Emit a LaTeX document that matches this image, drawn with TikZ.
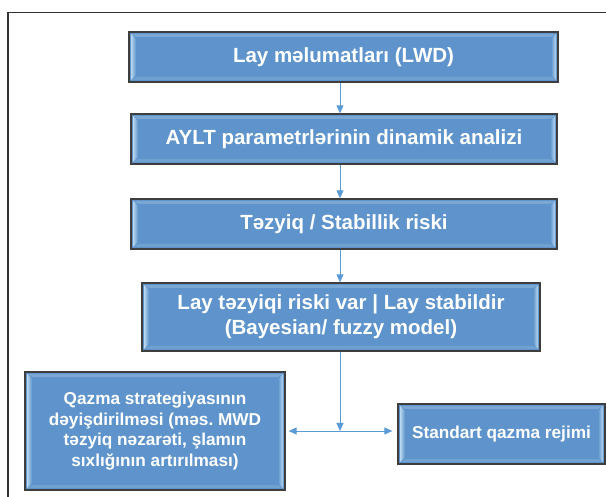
\documentclass[tikz,border=0pt]{standalone}
\usepackage{fontspec}
\setmainfont{Liberation Sans}
\usepackage{tikz}
\usetikzlibrary{arrows.meta, calc}

\definecolor{boxblue}{RGB}{94,148,203}
\definecolor{boxlight}{RGB}{186,216,240}
\definecolor{boxedge}{RGB}{62,62,62}
\definecolor{flowblue}{RGB}{91,155,213}
\definecolor{framegray}{RGB}{50,50,50}

\frenchspacing

\begin{document}
\begin{tikzpicture}[x=1pt, y=-1pt,
  flowbox/.style={draw=boxedge, line width=1.3pt, fill=boxblue, text=white,
    align=center, inner sep=0pt, font=\bfseries\fontsize{20.5}{25}\selectfont,
    path picture={
      \coordinate (pnw) at (path picture bounding box.north west);
      \coordinate (pne) at (path picture bounding box.north east);
      \coordinate (psw) at (path picture bounding box.south west);
      \coordinate (pse) at (path picture bounding box.south east);
      \fill[white, opacity=0.18] ($(pnw)+(2pt,-2pt)$) -- ($(pne)+(-2pt,-2pt)$) -- ($(pne)+(-7pt,-5pt)$) -- ($(pnw)+(7pt,-5pt)$) -- cycle;
      \fill[white, opacity=0.12] ($(psw)+(2pt,2pt)$) -- ($(pse)+(-2pt,2pt)$) -- ($(pse)+(-7pt,5pt)$) -- ($(psw)+(7pt,5pt)$) -- cycle;
      \shade[left color=boxlight, right color=boxblue] ($(pnw)+(2pt,-2pt)$) -- ($(pnw)+(7pt,-7pt)$) -- ($(psw)+(7pt,7pt)$) -- ($(psw)+(2pt,2pt)$) -- cycle;
      \shade[right color=boxlight, left color=boxblue] ($(pne)+(-2pt,-2pt)$) -- ($(pne)+(-7pt,-7pt)$) -- ($(pse)+(-7pt,7pt)$) -- ($(pse)+(-2pt,2pt)$) -- cycle;
    }},
  smallbox/.style={flowbox, font=\bfseries\fontsize{17.2}{20.4}\selectfont},
  flow/.style={draw=flowblue, line width=0.9pt, -{Triangle[length=8pt, width=7pt]}},
  tip/.tip={Triangle[length=8pt, width=7pt]}]

  \useasboundingbox (0,0) rectangle (606,497);

  \draw[framegray, line width=1.2pt] (8,497) -- (8,12.5) -- (606,12.5);

  \node[flowbox, minimum width=429pt, minimum height=50pt] (lwd) at (343.5,57) {Lay məlumatları (LWD)};
  \node[flowbox, minimum width=426pt, minimum height=50pt] (aylt) at (344,139) {AYLT parametrlərinin dinamik analizi};
  \node[flowbox, minimum width=426pt, minimum height=50pt] (risk) at (344,224) {Təzyiq / Stabillik riski};
  \node[flowbox, minimum width=398pt, minimum height=68pt] (model) at (341,317) {Lay təzyiqi riski var | Lay stabildir\\(Bayesian/ fuzzy model)};
  \node[smallbox, minimum width=260pt, minimum height=118pt] (strat) at (155,431) {Qazma strategiyasının\\dəyişdirilməsi (məs. MWD\\təzyiq nəzarəti, şlamın\\sıxlığının artırılması)};
  \node[smallbox, minimum width=207pt, minimum height=60pt] (std) at (501.5,434) {Standart qazma rejimi};

  \coordinate (spine) at (340,0);
  \coordinate (junc) at (340,431);

  \draw[flow] (lwd.south -| spine) -- (aylt.north -| spine);
  \draw[flow] (aylt.south -| spine) -- (risk.north -| spine);
  \draw[flow] (risk.south -| spine) -- (model.north -| spine);
  \draw[flow] (model.south -| spine) -- (junc);
  \draw[flow, tip-tip, shorten <=3pt, shorten >=5pt] (strat.east |- junc) -- (std.west |- junc);

\end{tikzpicture}
\end{document}
